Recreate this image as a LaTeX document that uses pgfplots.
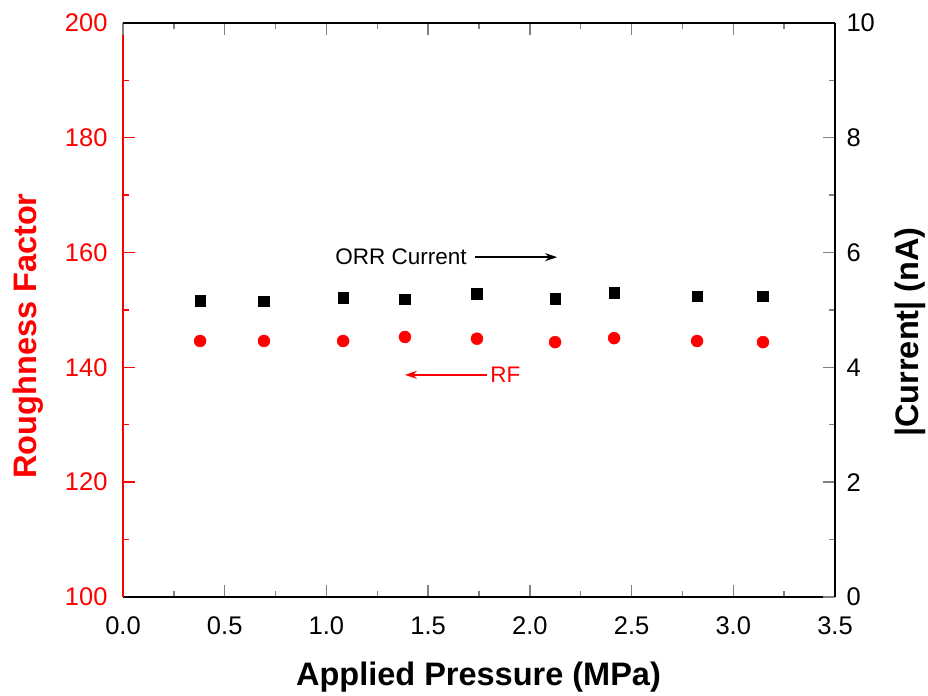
\documentclass[border=0pt]{standalone}
\usepackage{fontspec}
\setmainfont{Liberation Sans}
\usepackage{pgfplots}
\usepackage{pgfplotstable}
\pgfplotsset{compat=1.18}
\usetikzlibrary{arrows.meta}

\pgfplotstableread{
x     rf     cur
0.379 144.6  5.16
0.693 144.6  5.15
1.082 144.6  5.21
1.386 145.3  5.19
1.740 145.0  5.28
2.124 144.4  5.20
2.414 145.1  5.30
2.822 144.6  5.24
3.146 144.4  5.24
}\data

\begin{document}
\begin{tikzpicture}
\pgfplotsset{
  common/.style={
    width=712bp, height=574bp, scale only axis,
    at={(0,0)}, anchor=south west,
    xmin=0, xmax=3.5,
    xtick={0,0.5,1,1.5,2,2.5,3,3.5}, minor x tick num=1,
    tick align=inside,
    major tick length=12bp, minor tick length=6bp,
    every tick/.append style={line width=1.4bp},
    /pgf/number format/assume math mode=true,
    tick label style={font=\fontsize{25.5bp}{30bp}\selectfont},
    axis line style={line width=1.6bp,-},
    clip=false,
  }
}
\begin{axis}[common,
  axis x line*=bottom, axis y line*=left,
  ymin=100, ymax=200, ytick={100,120,140,160,180,200}, minor y tick num=1,
  y axis line style={red},
  ytick style={red},
  yticklabel style={red, xshift=-12bp},
  xticklabel style={yshift=-16bp, /pgf/number format/.cd, fixed, fixed zerofill, precision=1},
  xlabel={Applied Pressure (MPa)},
  ylabel={Roughness Factor},
  every axis x label/.style={at={(axis description cs:0.4993,-0.155)}, anchor=base, font=\bfseries\fontsize{32.5bp}{38bp}\selectfont},
  every axis y label/.style={at={(axis description cs:-0.1208,0.4547)}, rotate=90, anchor=base, red, font=\bfseries\fontsize{32.5bp}{38bp}\selectfont},
]
\addplot[only marks, mark=*, mark size=6bp, red, mark options={fill=red, draw=red}] table[x=x, y=rf] {\data};
\draw[red, line width=1.4bp, -{Stealth[length=12bp,width=8bp]}] (axis cs:1.790,138.7) -- (axis cs:1.386,138.7);
\node[red, anchor=west, font=\fontsize{22.5bp}{26bp}\selectfont, inner sep=0pt] at (axis cs:1.805,138.7) {RF};
\end{axis}
\begin{axis}[common,
  axis x line*=top, axis y line*=right,
  xticklabels={},
  ymin=0, ymax=10, ytick={0,2,4,6,8,10}, minor y tick num=1,
  yticklabel style={xshift=8bp},
  ylabel={|Current| (nA)},
  every axis y label/.style={at={(axis description cs:1.1166,0.4617)}, rotate=90, anchor=base, font=\bfseries\fontsize{32.5bp}{38bp}\selectfont},
]
\addplot[only marks, mark=square*, mark size=5.3bp, black] table[x=x, y=cur] {\data};
\node[anchor=east, font=\fontsize{22.5bp}{26bp}\selectfont, inner sep=0pt] at (axis cs:1.69,5.92) {ORR Current};
\draw[black, line width=1.4bp, -{Stealth[length=12bp,width=8bp]}] (axis cs:1.731,5.92) -- (axis cs:2.134,5.92);
\end{axis}
\pgfresetboundingbox
\useasboundingbox (-123bp,-99bp) rectangle (805bp,597bp);
\end{tikzpicture}
\end{document}
